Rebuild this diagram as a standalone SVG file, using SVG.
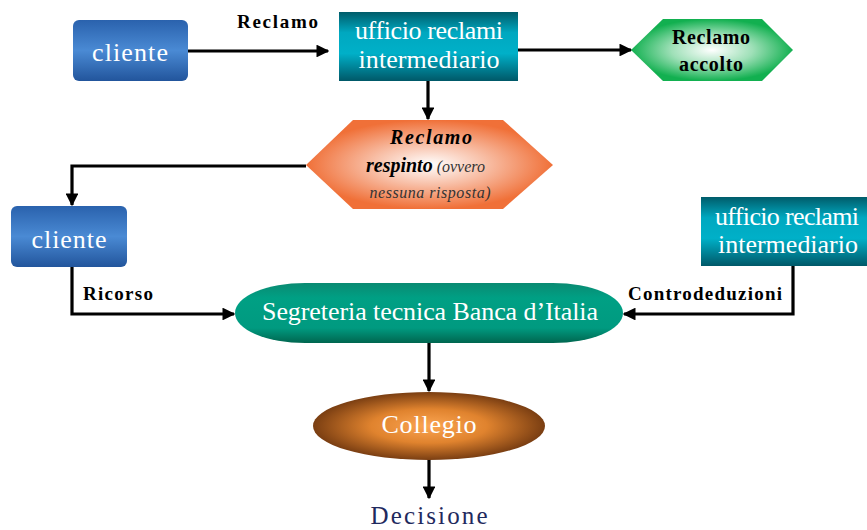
<svg xmlns="http://www.w3.org/2000/svg" width="867" height="530" viewBox="0 0 867 530">
<defs>
<linearGradient id="gBlue" x1="0" y1="0" x2="0" y2="1">
<stop offset="0" stop-color="#2a62ad"/><stop offset="0.5" stop-color="#4a8ad4"/><stop offset="1" stop-color="#22559c"/>
</linearGradient>
<linearGradient id="gTeal" x1="0" y1="0" x2="0" y2="1">
<stop offset="0" stop-color="#005c6a"/><stop offset="0.3" stop-color="#00a8c0"/><stop offset="0.6" stop-color="#00b0c8"/><stop offset="1" stop-color="#005868"/>
</linearGradient>
<radialGradient id="gGreen" cx="0.5" cy="0.5" r="0.5">
<stop offset="0" stop-color="#ffffff"/><stop offset="0.5" stop-color="#9fe0b8"/><stop offset="1" stop-color="#12b050"/>
</radialGradient>
<radialGradient id="gOrange" cx="0.5" cy="0.5" r="0.5">
<stop offset="0" stop-color="#ffffff"/><stop offset="0.45" stop-color="#f8c0a8"/><stop offset="1" stop-color="#f07038"/>
</radialGradient>
<linearGradient id="gSeg" x1="0" y1="0" x2="0" y2="1">
<stop offset="0" stop-color="#0a8a72"/><stop offset="0.25" stop-color="#00a084"/><stop offset="0.75" stop-color="#009a80"/><stop offset="1" stop-color="#00664f"/>
</linearGradient>
<radialGradient id="gColl" cx="0.5" cy="0.5" r="0.5">
<stop offset="0" stop-color="#fba552"/><stop offset="0.5" stop-color="#e0832e"/><stop offset="1" stop-color="#7a3e12"/>
</radialGradient>
<marker id="ah" viewBox="0 0 10 10" refX="9" refY="5" markerWidth="4" markerHeight="4" orient="auto" markerUnits="strokeWidth">
<path d="M0,0 L10,5 L0,10 z" fill="#000"/>
</marker>
</defs>
<style>
text{font-family:"Liberation Serif","Tinos","Times New Roman","DejaVu Serif",serif}
.w{fill:#fff;font-size:26px;text-anchor:middle}
.lb{fill:#000;font-size:19px;font-weight:bold}
.k{fill:#000;font-size:20px;font-weight:bold;text-anchor:middle}
.c{stroke:#000;stroke-width:3.2;fill:none;marker-end:url(#ah)}
</style>

<g id="connectors">
<line class="c" x1="188" y1="51" x2="328" y2="51"/>
<line class="c" x1="518" y1="50" x2="631" y2="50"/>
<line class="c" x1="428" y1="81" x2="428" y2="119"/>
<polyline class="c" points="306,166 72,166 72,205"/>
<polyline class="c" points="72,267 72,314 234,314"/>
<polyline class="c" points="793,266 793,314 624,314"/>
<line class="c" x1="429" y1="343" x2="429" y2="391"/>
<line class="c" x1="429" y1="460" x2="429" y2="498"/>
<text class="lb" x="237" y="28" textLength="81" lengthAdjust="spacing">Reclamo</text>
<text class="lb" x="83" y="300" textLength="70" lengthAdjust="spacing">Ricorso</text>
<text class="lb" x="628" y="300" textLength="154" lengthAdjust="spacing">Controdeduzioni</text>
</g>

<g id="cliente1">
<rect x="73" y="20" width="115" height="61" rx="6" fill="url(#gBlue)"/>
<text class="w" x="130" y="61" textLength="76" lengthAdjust="spacing">cliente</text>
</g>

<g id="ufficio1">
<rect x="339" y="12" width="179" height="69" fill="url(#gTeal)"/>
<text class="w" x="429" y="39" textLength="148" lengthAdjust="spacing">ufficio reclami</text>
<text class="w" x="429" y="68" textLength="141" lengthAdjust="spacing">intermediario</text>
</g>

<g id="accolto">
<polygon points="631,50 663,19 762,19 793,50 762,81 663,81" fill="url(#gGreen)"/>
<text class="k" x="711" y="44" textLength="78" lengthAdjust="spacing">Reclamo</text>
<text class="k" x="711" y="71" textLength="64" lengthAdjust="spacing">accolto</text>
</g>

<g id="respinto">
<polygon points="306,165 353,120 503,120 553,165 503,209 353,209" fill="url(#gOrange)"/>
<text class="k" x="431" y="144" font-style="italic" textLength="82" lengthAdjust="spacing">Reclamo</text>
<text x="366" y="172"><tspan font-size="20" font-weight="bold" font-style="italic" fill="#000">respinto</tspan><tspan font-size="16" font-style="italic" fill="#333"> (ovvero</tspan></text>
<text x="430" y="198" font-size="16" font-style="italic" fill="#333" text-anchor="middle" textLength="121" lengthAdjust="spacing">nessuna risposta)</text>
</g>

<g id="cliente2">
<rect x="11" y="206" width="116" height="61" rx="6" fill="url(#gBlue)"/>
<text class="w" x="69" y="248" textLength="75" lengthAdjust="spacing">cliente</text>
</g>

<g id="ufficio2">
<rect x="701" y="197" width="166" height="69" fill="url(#gTeal)"/>
<text class="w" x="787" y="225" textLength="144" lengthAdjust="spacing">ufficio reclami</text>
<text class="w" x="788" y="253" textLength="140" lengthAdjust="spacing">intermediario</text>
</g>

<g id="segreteria">
<rect x="235" y="283" width="388" height="60" rx="70" ry="30" fill="url(#gSeg)"/>
<text class="w" x="430" y="320" font-size="24" textLength="336" lengthAdjust="spacing">Segreteria tecnica Banca d’Italia</text>
</g>

<g id="collegio">
<ellipse cx="429" cy="426" rx="116" ry="34" fill="url(#gColl)"/>
<text class="w" x="429" y="433" textLength="95" lengthAdjust="spacing">Collegio</text>
</g>

<g id="decisione">
<text x="429" y="524" font-size="25" fill="#1f2a5e" text-anchor="middle" textLength="117" lengthAdjust="spacing">Decisione</text>
</g>
</svg>
